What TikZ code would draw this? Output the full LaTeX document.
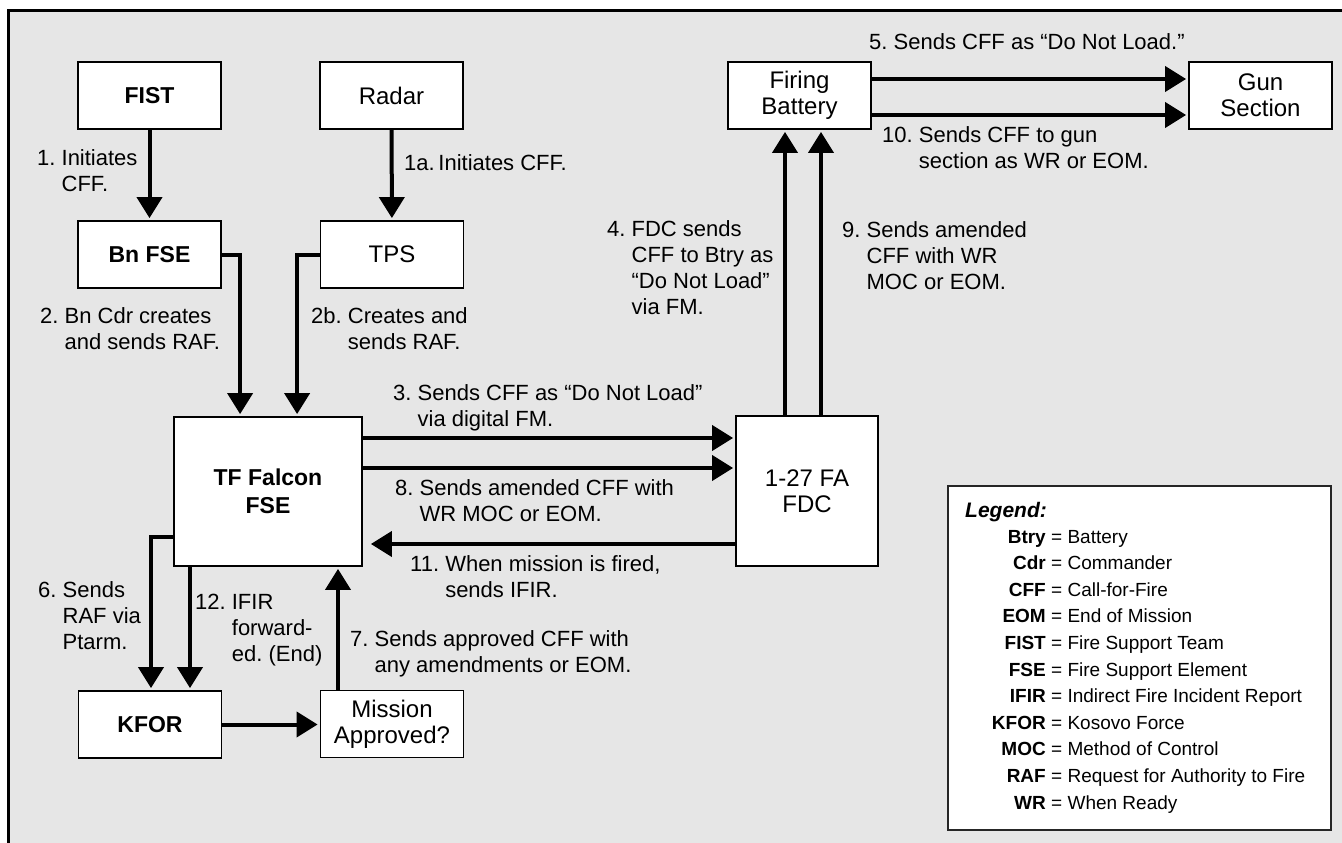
\documentclass[tikz,border=0pt]{standalone}
\usepackage{fontspec}
\setmainfont{Liberation Sans}
\usepackage{tikz}
\usetikzlibrary{arrows.meta,calc,positioning}
\frenchspacing
\definecolor{panelgray}{RGB}{230,230,230}
\newcommand{\steptext}[2]{\begin{tabular}[t]{@{}l@{\ }l@{}}#1&\begin{tabular}[t]{@{}l@{}}#2\end{tabular}\end{tabular}}
\tikzset{
  unit/.style={draw=black,line width=1.8pt,fill=white,minimum width=143pt,
    minimum height=67pt,inner sep=2pt,align=center,
    font=\fontsize{24}{26}\selectfont},
  keyunit/.style={unit,font=\fontsize{23}{28}\selectfont\bfseries},
  flow/.style={-{Triangle[length=21pt,width=25pt]},line width=4pt,shorten >=2pt},
  flowlabel/.style={anchor=base west,inner sep=0pt,font=\fontsize{22}{26}\selectfont},
  legabbr/.style={anchor=base east,inner sep=0pt,font=\fontsize{19}{26}\selectfont\bfseries},
  legtext/.style={anchor=base west,inner sep=0pt,font=\fontsize{19}{26}\selectfont}
}

\begin{document}
\begin{tikzpicture}[x=1pt,y=-1pt]
  \useasboundingbox (0,0) rectangle (1342,843);
  \draw[line width=3pt,fill=panelgray] (8,11) rectangle (1354,855);

  \node[keyunit] (fist)    at (149.5,95.5) {FIST};
  \node[unit]    (radar)   at (391.5,95.5) {Radar};
  \node[keyunit] (bnfse)   at (149.5,254.5) {Bn FSE};
  \node[unit]    (tps)     at (392,254.5) {TPS};
  \node[keyunit,minimum width=188pt,minimum height=149pt] (tffse) at (268,491.5) {TF Falcon\\FSE};
  \node[unit,minimum width=142pt,minimum height=150pt] (fdc) at (807,491) {1-27 FA\\FDC};
  \node[unit]    (firbat)  at (799.5,95.5) {Firing\\Battery};
  \node[unit]    (gunsec)  at (1260.5,95.5) {Gun\\Section};
  \node[keyunit] (kfor)    at (150,724.5) {KFOR};
  \node[unit]    (mission) at (392,724) {Mission\\Approved?};

  % levels of the parallel connectors
  \coordinate (lvl3)  at (0,438);
  \coordinate (lvl8)  at (0,468);
  \coordinate (lvl11) at (0,544);
  \coordinate (lvl6)  at (0,537);
  \coordinate (lvl5)  at (0,79);
  \coordinate (lvl10) at (0,115);
  \coordinate (col4)  at (785,0);
  \coordinate (col9)  at (821,0);
  \coordinate (col6)  at (151,0);
  \coordinate (col12) at (190,0);
  \coordinate (col7)  at (338,0);

  \draw[flow] (fist) -- (bnfse);
  \draw[flow] (radar) -- (tps);
  \draw[flow] (bnfse.east) -| ([xshift=67pt]tffse.north west);
  \draw[flow] (tps.west) -| ([xshift=124pt]tffse.north west);
  \draw[flow] (tffse.east |- lvl3) -- (fdc.west |- lvl3);
  \draw[flow] (tffse.east |- lvl8) -- (fdc.west |- lvl8);
  \draw[flow,shorten >=8pt] (fdc.west |- lvl11) -- (tffse.east |- lvl11);
  \draw[flow] (fdc.north -| col4) -- (firbat.south -| col4);
  \draw[flow] (fdc.north -| col9) -- (firbat.south -| col9);
  \draw[flow] (firbat.east |- lvl5) -- (gunsec.west |- lvl5);
  \draw[flow] (firbat.east |- lvl10) -- (gunsec.west |- lvl10);
  \draw[flow] (tffse.west |- lvl6) -| (kfor.north -| col6);
  \draw[flow] (tffse.south -| col12) -- (kfor.north -| col12);
  \draw[flow] (kfor.east) -- (kfor.east -| mission.west);
  \draw[flow] (mission.north -| col7) -- (tffse.south -| col7);

  \node[flowlabel] (l1)  at (37,165)  {\steptext{1.}{Initiates\\CFF.}};
  \node[flowlabel] (l1a) at (404,170) {1a.\,Initiates CFF.};
  \node[flowlabel] (l2)  at (40,323)  {\steptext{2.}{Bn Cdr creates\\and sends RAF.}};
  \node[flowlabel] (l2b) at (311,323) {\steptext{2b.}{Creates and\\sends RAF.}};
  \node[flowlabel] (l3)  at (393,400) {\steptext{3.}{Sends CFF as “Do Not Load”\\via digital FM.}};
  \node[flowlabel] (l4)  at (607,236) {\steptext{4.}{FDC sends\\CFF to Btry as\\“Do Not Load”\\via FM.}};
  \node[flowlabel] (l5)  at (869,50)  {5. Sends CFF as “Do Not Load.”};
  \node[flowlabel] (l6)  at (38,597)  {\steptext{6.}{Sends\\RAF via\\Ptarm.}};
  \node[flowlabel] (l7)  at (350,646) {\steptext{7.}{Sends approved CFF with\\any amendments or EOM.}};
  \node[flowlabel] (l8)  at (395,495) {\steptext{8.}{Sends amended CFF with\\WR MOC or EOM.}};
  \node[flowlabel] (l9)  at (842,237) {\steptext{9.}{Sends amended\\CFF with WR\\MOC or EOM.}};
  \node[flowlabel] (l10) at (882,142) {\steptext{10.}{Sends CFF to gun\\section as WR or EOM.}};
  \node[flowlabel] (l11) at (410,571) {\steptext{11.}{When mission is fired,\\sends IFIR.}};
  \node[flowlabel] (l12) at (195,609) {\steptext{12.}{IFIR\\forward-\\ed. (End)}};

  % legend
  \node[draw=black!85,line width=1.2pt,fill=white,minimum width=383pt,
    minimum height=344pt] (legend) at (1139.5,658) {};
  \node[flowlabel,font=\fontsize{21}{26}\selectfont\bfseries\itshape] (legtitle) at (965,517) {Legend:};
  \foreach \abbr/\full [count=\i] in {Btry/Battery,Cdr/Commander,CFF/Call-for-Fire,
      EOM/End of Mission,FIST/Fire Support Team,FSE/Fire Support Element,
      IFIR/Indirect Fire Incident Report,KFOR/Kosovo Force,MOC/Method of Control,
      RAF/Request for Authority to Fire,WR/When Ready} {
    \node[legabbr] (ab\i) at (1046,543+26.6*\i-26.6) {\abbr};
    \node[legtext] (df\i) at (1051,543+26.6*\i-26.6) {= \full};
  }
\end{tikzpicture}
\end{document}
